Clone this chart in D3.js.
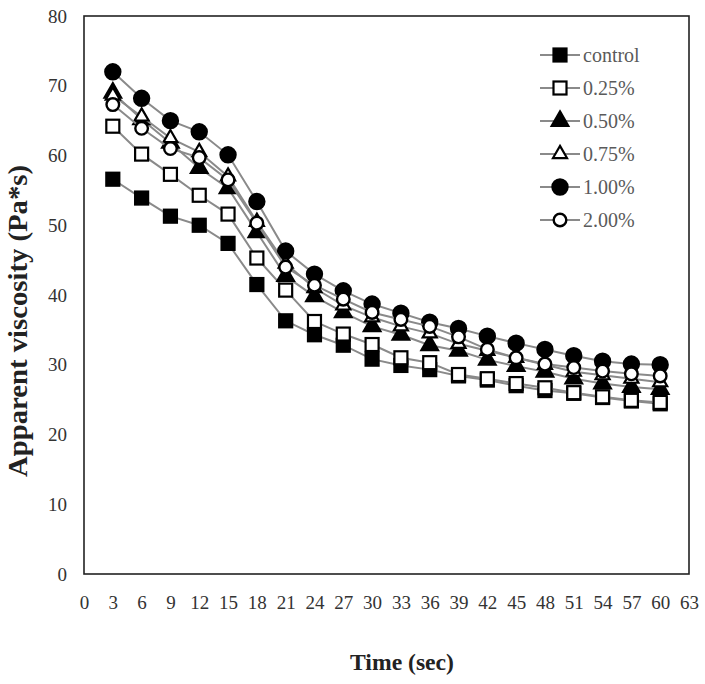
<!DOCTYPE html>
<html><head><meta charset="utf-8">
<script src="https://cdn.jsdelivr.net/npm/d3@7"></script>
<style>body{margin:0;background:#fff}svg{display:block}</style>
</head><body><svg id="c" width="705" height="684"></svg>
<script>
const times = [3,6,9,12,15,18,21,24,27,30,33,36,39,42,45,48,51,54,57,60];
const xTicks = d3.range(0,64,3);
const yTicks = [0,10,20,30,40,50,60,70,80];
const seriesNames = ["control","0.25%","0.50%","0.75%","1.00%","2.00%"];
const control = [56.6,53.9,51.3,50.0,47.4,41.5,36.3,34.3,32.8,30.8,29.9,29.3,28.4,27.8,27.0,26.3,25.9,25.3,24.8,24.4];
const p025    = [64.2,60.2,57.3,54.3,51.6,45.3,40.7,36.2,34.4,32.9,31.0,30.3,28.6,28.0,27.3,26.7,26.0,25.4,24.9,24.6];
const p050    = [69.0,65.2,61.8,58.2,55.3,49.0,42.7,39.8,37.5,35.5,34.3,32.8,32.0,30.7,29.8,29.0,28.0,27.3,26.8,26.5];
const p075    = [68.6,65.6,62.5,60.5,57.0,50.5,44.5,41.0,38.5,36.8,35.5,34.5,33.0,32.0,31.0,30.0,29.0,28.5,28.0,27.5];
const p100    = [72.0,68.2,65.0,63.4,60.1,53.4,46.3,43.0,40.6,38.7,37.4,36.1,35.2,34.1,33.1,32.2,31.3,30.5,30.1,30.0];
const p200    = [67.3,63.9,61.0,59.7,56.5,50.3,44.0,41.4,39.4,37.5,36.5,35.5,34.0,32.2,31.0,30.1,29.6,29.1,28.7,28.4];
const seriesValues = [control,p025,p050,p075,p100,p200];
const markerShapes = ["square","square","triangle","triangle","circle","circle"];
const markerFilled = [true,false,true,false,true,false];

const svg = d3.select("#c");
const L=84, R=689, T=16, B=574;
const x = d3.scaleLinear().domain([0,63]).range([L,R]);
const y = d3.scaleLinear().domain([0,80]).range([B,T]);
const serif = "'Liberation Serif','Times New Roman',serif";

// frame
svg.append("rect").attr("x",L).attr("y",T).attr("width",R-L).attr("height",B-T)
  .attr("fill","none").attr("stroke","#222").attr("stroke-width",1.6);

// axes (labels only)
const xa = svg.append("g").attr("transform",`translate(0,${B})`)
  .call(d3.axisBottom(x).tickValues(xTicks).tickSize(0).tickPadding(22).tickFormat(d3.format("d")));
const ya = svg.append("g").attr("transform",`translate(${L},0)`)
  .call(d3.axisLeft(y).tickValues(yTicks).tickSize(0).tickPadding(17).tickFormat(d3.format("d")));
[xa,ya].forEach(a=>{a.select(".domain").remove();
  a.selectAll("text").attr("font-family",serif).attr("font-size",19).attr("fill","#333");});

// titles
svg.append("text").attr("x",402).attr("y",670).attr("text-anchor","middle")
  .attr("font-family",serif).attr("font-size",24).attr("font-weight","bold").attr("fill","#222")
  .attr("textLength",104).attr("lengthAdjust","spacingAndGlyphs").text("Time (sec)");
svg.append("text").attr("transform","translate(27,321) rotate(-90)").attr("text-anchor","middle")
  .attr("font-family",serif).attr("font-size",27).attr("font-weight","bold").attr("fill","#222")
  .attr("textLength",312).attr("lengthAdjust","spacingAndGlyphs").text("Apparent viscosity (Pa*s)");

function drawMarker(g, shape, filled){
  const fill = filled ? "#000" : "#fff";
  if(shape==="square") g.append("rect").attr("x",-6.5).attr("y",-6.5).attr("width",13).attr("height",13)
      .attr("fill",fill).attr("stroke","#000").attr("stroke-width",2.2);
  else if(shape==="circle") g.append("circle").attr("r",filled?7.5:6.3)
      .attr("fill",fill).attr("stroke","#000").attr("stroke-width",2.4);
  else g.append("path").attr("d",d3.symbol(d3.symbolTriangle, filled?120:85)())
      .attr("fill",fill).attr("stroke","#000").attr("stroke-width",2.2);
}

const line = d3.line().x((d,i)=>x(times[i])).y(d=>y(d));
seriesValues.forEach((vals,si)=>{
  const g = svg.append("g");
  g.append("path").datum(vals).attr("d",line).attr("fill","none").attr("stroke","#8a8a8a").attr("stroke-width",2);
  vals.forEach((v,i)=>{
    const m = g.append("g").attr("transform",`translate(${x(times[i])},${y(v)})`);
    drawMarker(m, markerShapes[si], markerFilled[si]);
  });
});

// legend
const leg = svg.append("g");
seriesNames.forEach((n,i)=>{
  const yy = 55 + i*33;
  leg.append("line").attr("x1",540).attr("x2",580).attr("y1",yy).attr("y2",yy).attr("stroke","#8a8a8a").attr("stroke-width",2);
  const m = leg.append("g").attr("transform",`translate(560,${yy})`);
  drawMarker(m, markerShapes[i], markerFilled[i]);
  leg.append("text").attr("x",583).attr("y",yy).attr("dy","0.35em")
    .attr("font-family",serif).attr("font-size",20).attr("fill","#5a5a5a").text(n);
});
</script></body></html>
